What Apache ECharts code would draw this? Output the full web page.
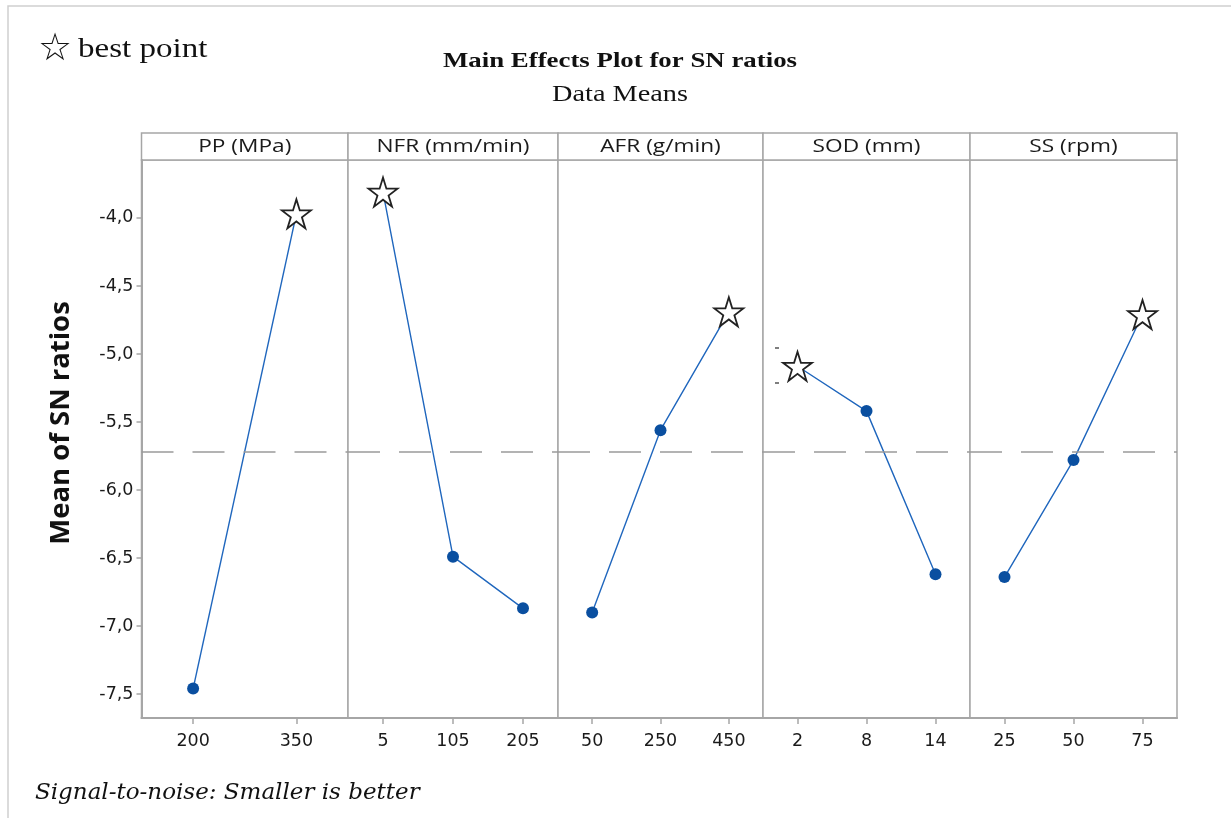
<!DOCTYPE html>
<html>
<head>
<meta charset="utf-8">
<script src="https://cdn.jsdelivr.net/npm/echarts@6/dist/echarts.min.js"></script>
<style>
html,body{margin:0;padding:0;background:#fff;}
#chart{width:1231px;height:818px;}
</style>
</head>
<body>
<div id="chart"></div>
<script>
// ---- data ----
const factorNames = ['PP (MPa)', 'NFR (mm/min)', 'AFR (g/min)', 'SOD (mm)', 'SS (rpm)'];
const levelsPP  = ['200', '350'];
const levelsNFR = ['5', '105', '205'];
const levelsAFR = ['50', '250', '450'];
const levelsSOD = ['2', '8', '14'];
const levelsSS  = ['25', '50', '75'];
const snPP  = [-7.46, -3.97];
const snNFR = [-3.81, -6.49, -6.87];
const snAFR = [-6.90, -5.56, -4.69];
const snSOD = [-5.09, -5.42, -6.62];
const snSS  = [-6.64, -5.78, -4.71];
const yTickValues = [-7.5, -7.0, -6.5, -6.0, -5.5, -5.0, -4.5, -4.0];

const levels = [levelsPP, levelsNFR, levelsAFR, levelsSOD, levelsSS];
const values = [snPP, snNFR, snAFR, snSOD, snSS];

// ---- layout ----
const edges = [141.5, 348, 558, 763, 970, 1177];
const plotTop = 160, plotBottom = 718, headerTop = 133;
const yMin = -7.676, yMax = -3.574;
const axisGray = '#a6a6a6';
const tickFont = 'DejaVu Sans';
const grandMean = values.map(v => v.reduce((a, b) => a + b, 0) / v.length)
                        .reduce((a, b) => a + b, 0) / values.length;

const starPath = 'path://M50,2 L61.2,36.2 L97.6,36.2 L68.2,57.4 L79.4,91.6 L50,70.4 L20.6,91.6 L31.8,57.4 L2.4,36.2 L38.8,36.2 Z';

const grids = [], xAxes = [], yAxes = [], series = [], graphics = [];
for (let i = 0; i < 5; i++) {
  grids.push({
    left: edges[i], width: edges[i + 1] - edges[i],
    top: plotTop, height: plotBottom - plotTop,
    show: true, borderColor: axisGray, borderWidth: 1.5, backgroundColor: '#fff'
  });
  xAxes.push({
    type: 'category', gridIndex: i, data: levels[i], boundaryGap: true,
    axisLine: { show: true, lineStyle: { color: axisGray, width: 2 } },
    axisTick: { show: true, alignWithLabel: true, length: 6, lineStyle: { color: axisGray, width: 1.5 } },
    axisLabel: { color: '#1a1a1a', fontFamily: tickFont, fontSize: 17.5, margin: 14 },
    splitLine: { show: false }
  });
  yAxes.push({
    type: 'value', gridIndex: i, min: yMin, max: yMax,
    show: i === 0,
    axisLine: { show: true, lineStyle: { color: axisGray, width: 2 } },
    axisTick: { show: true, length: 5, customValues: yTickValues, lineStyle: { color: axisGray, width: 1.5 } },
    axisLabel: {
      show: true, customValues: yTickValues, margin: 8,
      color: '#1a1a1a', fontFamily: tickFont, fontSize: 17.5,
      formatter: v => v.toFixed(1).replace('.', ',')
    },
    splitLine: { show: false }
  });
  const vals = values[i];
  const best = vals.indexOf(Math.max(...vals));
  series.push({
    type: 'line', xAxisIndex: i, yAxisIndex: i,
    data: vals.map((v, k) => k === best ? {
      value: v, symbol: starPath, symbolSize: [29, 29],
      itemStyle: { color: '#fff', borderColor: '#222', borderWidth: 1.8 }
    } : { value: v }),
    symbol: 'circle', symbolSize: 12,
    itemStyle: { color: '#0a4fa0', borderColor: '#0a4fa0', borderWidth: 0 },
    lineStyle: { color: '#1f66bd', width: 1.4 },
    z: 3, animation: false,
    markLine: {
      silent: true, symbol: 'none', animation: false,
      label: { show: false },
      lineStyle: { color: '#9a9a9a', width: 1.5, type: [32, 19] },
      data: [{ yAxis: grandMean }]
    }
  });
  // header strip
  graphics.push({
    type: 'rect',
    shape: { x: edges[i], y: headerTop, width: edges[i + 1] - edges[i], height: plotTop - headerTop },
    style: { fill: '#fff', stroke: axisGray, lineWidth: 1.5 }
  });
  graphics.push({
    type: 'text',
    x: (edges[i] + edges[i + 1]) / 2, y: (headerTop + plotTop) / 2 + 0.5,
    scaleX: 1.26,
    style: {
      text: factorNames[i], fill: '#1a1a1a', font: '18px "Open Sans"',
      align: 'center', verticalAlign: 'middle'
    }
  });
}

// frame and texts
graphics.unshift({
  type: 'rect', shape: { x: 8, y: 6, width: 1240, height: 830 },
  style: { fill: 'none', stroke: '#cfcfcf', lineWidth: 1.5 }
});
// small stray ticks seen near the SOD panel
graphics.push({ type: 'line', shape: { x1: 775, y1: 348, x2: 779, y2: 348 }, style: { stroke: '#555', lineWidth: 1.5 } });
graphics.push({ type: 'line', shape: { x1: 775, y1: 383, x2: 779, y2: 383 }, style: { stroke: '#555', lineWidth: 1.5 } });
// y-axis title
graphics.push({
  type: 'text', x: 61, y: 423, rotation: Math.PI / 2,
  style: { text: 'Mean of SN ratios', fill: '#111', font: 'bold 27.5px "Open Sans"', align: 'center', verticalAlign: 'middle' }
});
graphics.push({
  type: 'text', x: 55, y: 50,
  style: { text: '☆', fill: '#111', font: '38px "DejaVu Sans"', align: 'center', verticalAlign: 'middle' }
});
graphics.push({
  type: 'text', x: 78, y: 50, scaleX: 1.18,
  style: { text: 'best point', fill: '#111', font: '28px "Liberation Serif"', align: 'left', verticalAlign: 'middle' }
});
graphics.push({
  type: 'text', x: 620, y: 61, scaleX: 1.22,
  style: { text: 'Main Effects Plot for SN ratios', fill: '#111', font: 'bold 22px "Liberation Serif"', align: 'center', verticalAlign: 'middle' }
});
graphics.push({
  type: 'text', x: 620, y: 95, scaleX: 1.23,
  style: { text: 'Data Means', fill: '#111', font: '23px "Liberation Serif"', align: 'center', verticalAlign: 'middle' }
});
graphics.push({
  type: 'text', x: 35, y: 793,
  style: { text: 'Signal-to-noise: Smaller is better', fill: '#111', font: 'italic 23px "DejaVu Serif"', align: 'left', verticalAlign: 'middle' }
});

const chart = echarts.init(document.getElementById('chart'), null, { renderer: 'canvas' });
chart.setOption({
  animation: false,
  backgroundColor: '#fff',
  grid: grids, xAxis: xAxes, yAxis: yAxes, series: series,
  graphic: { elements: graphics }
});
</script>
</body>
</html>
